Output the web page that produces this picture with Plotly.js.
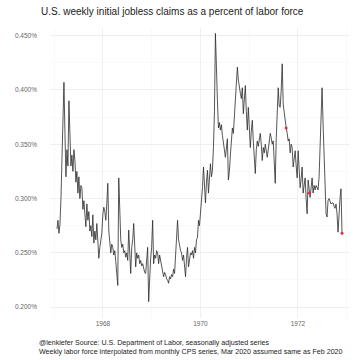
<!DOCTYPE html>
<html>
<head>
<meta charset="utf-8">
<script src="https://cdn.plot.ly/plotly-3.0.1.min.js"></script>
<style>html,body{margin:0;padding:0;background:#fff;}#chart{width:360px;height:360px;}</style>
</head>
<body>
<div id="chart"></div>
<script>
// Weekly claims as % of labor force
const claimsPct = [
0.272,0.280,0.268,0.276,0.300,0.335,0.360,0.407,0.360,0.320,
0.345,0.330,0.390,0.350,0.330,0.340,0.325,0.345,0.335,0.315,
0.325,0.305,0.320,0.300,0.312,0.310,0.290,0.298,0.285,0.274,
0.295,0.280,0.288,0.270,0.275,0.265,0.285,0.259,0.270,0.262,
0.277,0.260,0.245,0.255,0.262,0.268,0.285,0.292,0.288,0.280,
0.295,0.314,0.270,0.262,0.250,0.258,0.255,0.248,0.252,0.242,
0.232,0.220,0.319,0.280,0.262,0.255,0.258,0.250,0.252,0.246,
0.250,0.243,0.271,0.250,0.231,0.255,0.262,0.277,0.255,0.237,
0.250,0.245,0.248,0.240,0.243,0.238,0.240,0.235,0.232,0.231,
0.240,0.255,0.205,0.230,0.245,0.255,0.280,0.240,0.248,0.245,
0.252,0.250,0.240,0.248,0.243,0.238,0.235,0.228,0.232,0.230,
0.226,0.225,0.222,0.228,0.226,0.230,0.228,0.235,0.231,0.245,
0.260,0.280,0.262,0.255,0.252,0.250,0.243,0.248,0.238,0.228,
0.245,0.255,0.237,0.245,0.250,0.248,0.252,0.245,0.255,0.250,
0.262,0.264,0.280,0.275,0.286,0.295,0.310,0.329,0.305,0.296,
0.315,0.326,0.305,0.318,0.332,0.320,0.326,0.347,0.380,0.452,
0.411,0.390,0.365,0.370,0.363,0.368,0.358,0.353,0.345,0.338,
0.350,0.355,0.317,0.325,0.340,0.355,0.365,0.360,0.375,0.390,
0.405,0.421,0.409,0.400,0.397,0.392,0.402,0.378,0.390,0.404,
0.380,0.363,0.384,0.360,0.347,0.362,0.372,0.353,0.340,0.323,
0.345,0.353,0.348,0.355,0.360,0.350,0.335,0.347,0.342,0.350,
0.345,0.338,0.345,0.355,0.360,0.356,0.350,0.353,0.330,0.314,
0.355,0.372,0.402,0.385,0.384,0.400,0.424,0.387,0.378,0.372,
0.365,0.360,0.353,0.355,0.342,0.350,0.347,0.329,0.338,0.344,
0.330,0.319,0.344,0.320,0.310,0.318,0.329,0.305,0.312,0.319,
0.300,0.286,0.317,0.305,0.301,0.310,0.319,0.305,0.312,0.308,
0.312,0.310,0.308,0.320,0.342,0.370,0.402,0.369,0.335,0.310,
0.286,0.283,0.298,0.300,0.298,0.295,0.296,0.296,0.293,0.291,
0.295,0.286,0.269,0.288,0.300,0.309,0.268
];
const firstWeek = 1967.056;   // decimal year of first observation
const lastWeek = 1972.903;    // decimal year of last observation
const highlightIdx = [230, 253, 286];
const yTicks = [0.200, 0.250, 0.300, 0.350, 0.400, 0.450];
const yTickLabels = ["0.200%", "0.250%", "0.300%", "0.350%", "0.400%", "0.450%"];
const xTicks = [1968, 1970, 1972];
const xTickLabels = ["1968", "1970", "1972"];

const n = claimsPct.length;
const step = (lastWeek - firstWeek) / (n - 1);
const xs = claimsPct.map((_, i) => firstWeek + i * step);
const hl = highlightIdx.filter(i => i < n);

const traces = [
  {x: xs, y: claimsPct, type: 'scatter', mode: 'lines',
   line: {color: '#2b2b2b', width: 0.8}, hoverinfo: 'skip'},
  {x: hl.map(i => xs[i]), y: hl.map(i => claimsPct[i]),
   type: 'scatter', mode: 'markers', marker: {color: '#e0304a', size: 3}, hoverinfo: 'skip'}
];

const layout = {
  width: 360, height: 360,
  margin: {l: 50, r: 10, t: 28, b: 42},
  paper_bgcolor: '#ffffff', plot_bgcolor: '#ffffff',
  showlegend: false,
  font: {family: 'Liberation Sans, Arial, sans-serif', color: '#555'},
  title: {text: 'U.S. weekly initial jobless claims as a percent of labor force',
          font: {size: 10, color: '#222', family: 'Liberation Sans, Arial, sans-serif'},
          xref: 'container', x: 0.114, xanchor: 'left', yref: 'container', y: 0.967, yanchor: 'middle'},
  xaxis: {range: [1966.913, 1973.067], tickvals: xTicks, ticktext: xTickLabels,
          showgrid: true, gridcolor: '#ececec', gridwidth: 0.8, zeroline: false, showline: false,
          ticks: '', tickfont: {size: 6.5, color: '#666'},
          minor: {tickvals: [1967, 1969, 1971, 1973], showgrid: true, gridcolor: '#f5f5f5', gridwidth: 0.6}},
  yaxis: {range: [0.190, 0.457], tickvals: yTicks, ticktext: yTickLabels,
          showgrid: true, gridcolor: '#ececec', gridwidth: 0.8, zeroline: false, showline: false,
          ticks: '', ticklabelstandoff: 12, tickfont: {size: 6.5, color: '#666'},
          minor: {dtick: 0.025, tick0: 0.175, showgrid: true, gridcolor: '#f5f5f5', gridwidth: 0.6}},
  annotations: [{
    xref: 'paper', yref: 'paper', x: -0.045, y: -0.1, xanchor: 'left', yanchor: 'middle',
    align: 'left', showarrow: false,
    text: '@lenkiefer Source: U.S. Department of Labor, seasonally adjusted series<br>Weekly labor force interpolated from monthly CPS series, Mar 2020 assumed same as Feb 2020',
    font: {size: 7.1, color: '#222', family: 'Liberation Sans, Arial, sans-serif'}
  }]
};

Plotly.newPlot('chart', traces, layout, {displayModeBar: false, staticPlot: true});
</script>
</body>
</html>
